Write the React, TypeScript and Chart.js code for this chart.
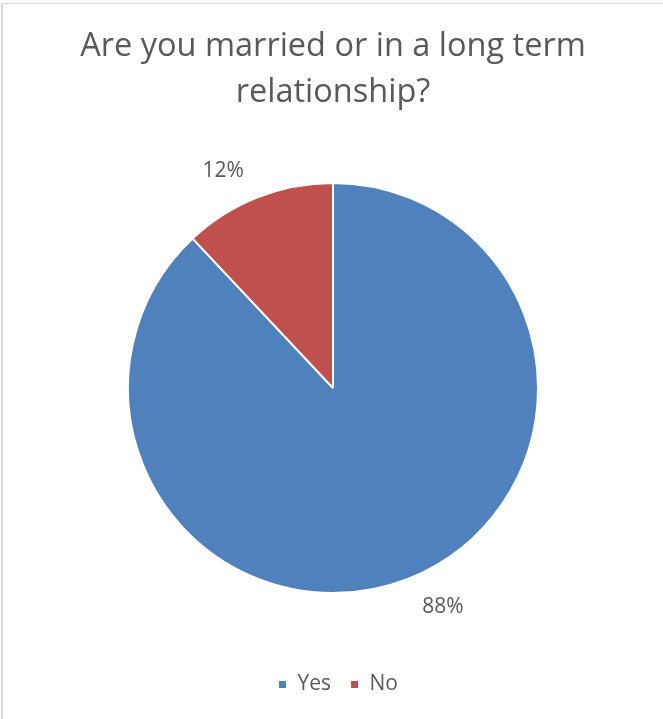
import React, { useEffect, useRef } from "react";
import { Chart, registerables } from "chart.js";

Chart.register(...registerables);

const titleLines = ["Are you married or in a long term", "relationship?"];
const categories = ["Yes", "No"];
const values = [88, 12];
const valueLabels = ["88%", "12%"];
const colors = ["#4F81BD", "#C0504D"];

const FONT = "'Open Sans', 'Noto Sans', sans-serif";
const TEXT = "#595959";

const labelPlugin = {
  id: "outsideLabels",
  afterLayout(chart: any) {
    if (chart.legend) {
      chart.legend.left += 5;
      chart.legend.right += 5;
    }
  },
  afterDatasetsDraw(chart: any) {
    const ctx = chart.ctx;
    const meta = chart.getDatasetMeta(0);
    ctx.save();
    ctx.font = `21px ${FONT}`;
    ctx.fillStyle = TEXT;
    ctx.textAlign = "center";
    ctx.textBaseline = "middle";
    meta.data.forEach((arc: any, i: number) => {
      const p = arc.getProps(["x", "y", "startAngle", "endAngle", "outerRadius"], true);
      const mid = (p.startAngle + p.endAngle) / 2;
      const rr = p.outerRadius + 29;
      const txt = valueLabels[i];
      const w = ctx.measureText(txt).width;
      const c = Math.cos(mid);
      const x = p.x + c * rr + Math.sign(c) * (w / 2 + 3);
      const y = p.y + Math.sin(mid) * rr + 1;
      ctx.fillText(txt, x, y);
    });
    ctx.restore();
  },
};

export default function App() {
  const ref = useRef<HTMLCanvasElement>(null);
  useEffect(() => {
    const chart = new Chart(ref.current!, {
      type: "pie",
      data: {
        labels: categories,
        datasets: [
          {
            data: values,
            backgroundColor: colors,
            borderColor: "#ffffff",
            borderWidth: 2,
          },
        ],
      },
      options: {
        animation: false,
        responsive: false,
        radius: 205,
        layout: { padding: { left: 3, right: 0, top: 0, bottom: 14 } },
        plugins: {
          tooltip: { enabled: false },
          title: {
            display: true,
            text: titleLines,
            color: TEXT,
            font: { family: FONT, size: 32.5, weight: "normal", lineHeight: 46 / 32.5 },
            padding: { top: 24, bottom: 5 },
          },
          legend: {
            display: true,
            position: "bottom",
            labels: {
              color: TEXT,
              font: { family: FONT, size: 21 },
              boxWidth: 9,
              boxHeight: 9,
              padding: 19,
            },
          },
        },
      } as any,
      plugins: [labelPlugin],
    });
    return () => chart.destroy();
  }, []);
  return (
    <div style={{ position: "absolute", left: 0, top: 0, width: 663, height: 719, background: "#fff", overflow: "hidden" }}>
      <div
        style={{
          position: "absolute",
          left: 1,
          top: 3,
          width: 700,
          height: 800,
          borderLeft: "2px solid #d9d9d9",
          borderTop: "1px solid #d9d9d9",
        }}
      />
      <canvas ref={ref} width={663} height={719} style={{ position: "absolute", left: 0, top: 0 }} />
    </div>
  );
}
